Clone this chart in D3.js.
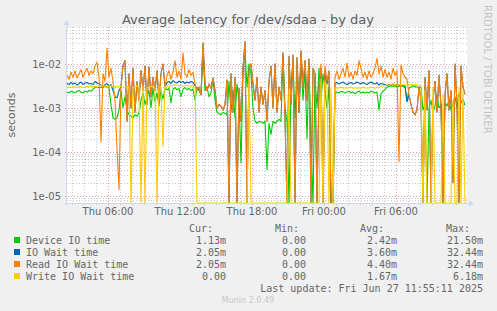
<!DOCTYPE html>
<html lang="en">
<head>
<meta charset="UTF-8">
<title>Average latency for /dev/sdaa - by day</title>
<style>
  body { margin: 0; background: #f0f0f0; }
  svg { display: block; }
  text { font-family: "DejaVu Sans", sans-serif; fill: #666; }
  .mono { font-family: "DejaVu Sans Mono", monospace; font-size: 10px; }
</style>
</head>
<body>
<svg id="chart" width="497" height="311"></svg>
<script src="https://d3js.org/d3.v7.min.js"></script>
<script>
// one sample every 10 minutes, values in milliseconds (0 = nothing measured)
const startTime = new Date(2025, 5, 26, 2, 35);
const endTime = new Date(2025, 5, 27, 11, 55);
const stepMinutes = 10;

const deviceIO = [
  2.3, 2.2, 2.4, 2.3, 2.2, 2.4, 2.5, 2.3, 2.2, 2.4,
  2.3, 2.5, 2.4, 2.7, 2.9, 3.0, 2.9, 3.0, 2.9, 3.1,
  3.0, 2.8, 1.2, 0.6, 0.55, 0.6, 0.9, 2.5, 1.0, 1.8,
  0.9, 0.7, 0.65, 0.6, 0.7, 0.65, 0.8, 1.5, 2.2, 1.2,
  1.8, 2.5, 1.0, 2.8, 1.4, 2.2, 1.1, 2.5, 1.6, 2.8,
  2.6, 2.8, 1.3, 2.7, 2.9, 2.6, 2.8, 1.8, 2.7, 2.9,
  2.6, 2.8, 2.5, 2.7, 1.5, 3.0, 2.5, 2.0, 18, 2.5,
  3.0, 1.8, 2.2, 4.5, 1.5, 0.8, 0.75, 0.7, 0.8, 0.75,
  0.7, 4.0, 0.8, 2.5, 0.6, 3.5, 1.5, 0.056, 6.0, 21.5,
  3.0, 10, 6.0, 1.0, 0.5, 0.45, 0.5, 0.48, 0.45, 0.5,
  0.04, 0.45, 0.25, 0.5, 0.45, 0.5, 0.55, 0.5, 15, 1.0,
  0.5, 0, 3.0, 12, 0.6, 10, 0.8, 12, 1.5, 8.0,
  0.2, 10, 0.15, 0, 5.0, 1.0, 8.0, 1.5, 6.0, 2.5,
  1.0, 3.0, 0, 0, 2.2, 2.3, 2.2, 2.4, 2.3, 2.2,
  2.3, 2.4, 2.2, 2.3, 2.1, 2.3, 2.4, 2.2, 2.3, 2.2,
  2.3, 2.2, 2.4, 2.3, 2.2, 2.3, 0.9, 2.1, 2.4, 2.6,
  3.0, 3.1, 3.2, 3.1, 3.2, 3.0, 3.1, 3.2, 3.1, 3.0,
  1.4, 2.8, 3.0, 3.2, 3.1, 3.0, 2.9, 3.0, 0.9, 1.2,
  0, 1.0, 1.5, 0.8, 1.1, 2.0, 1.0, 1.2, 0.056, 1.3,
  1.1, 1.5, 0.9, 1.2, 1.8, 1.0, 2.2, 1.3, 1.6, 1.13
];

const ioWait = [
  3.6, 3.4, 3.8, 3.5, 3.7, 3.3, 3.6, 3.9, 3.4, 3.7,
  3.8, 3.5, 3.6, 3.4, 4.0, 3.7, 3.5, 3.3, 3.0, 3.4,
  3.6, 3.2, 3.4, 2.5, 1.8, 1.7, 2.5, 3.0, 9.0, 12,
  0.5, 6.0, 1.0, 8.0, 0.8, 4.0, 1.5, 7.0, 2.5, 9.0,
  1.2, 8.5, 1.8, 5.0, 2.5, 7.0, 1.5, 6.0, 10, 3.0,
  3.8, 4.0, 3.6, 4.2, 3.9, 3.7, 4.1, 3.8, 4.0, 3.6,
  3.9, 3.7, 4.0, 3.8, 3.2, 2.5, 3.0, 2.0, 30, 3.5,
  2.5, 3.5, 2.8, 4.8, 2.5, 1.0, 1.2, 1.1, 0.9, 1.2,
  4.3, 0, 6.0, 0.8, 5.0, 0, 2.8, 0.5, 8.0, 32.44,
  0, 8.0, 10, 3.5, 1.5, 5.0, 0.8, 3.0, 1.2, 2.5,
  0.5, 4.0, 9.0, 1.0, 10, 0.8, 3.0, 1.5, 18, 0.6,
  0, 15, 1.2, 16, 0, 14, 0.8, 20, 3.0, 12,
  1.5, 13, 0, 8.0, 6.0, 0, 3.0, 8.0, 0, 7.0,
  3.5, 7.0, 0, 0, 3.6, 3.8, 3.5, 3.7, 3.9, 3.6,
  3.4, 3.7, 3.8, 3.5, 3.6, 3.9, 3.7, 3.5, 3.8, 3.6,
  3.4, 3.7, 3.9, 3.6, 3.5, 3.8, 3.3, 3.6, 3.5, 3.4,
  3.3, 3.4, 3.3, 3.5, 3.3, 3.4, 3.3, 3.2, 3.3, 3.2,
  1.4, 2.0, 1.2, 0.8, 0.7, 0.9, 3.0, 1.5, 0, 5.0,
  0.9, 7.0, 0, 1.5, 4.0, 0.8, 5.5, 1.1, 0, 2.0,
  6.0, 0.9, 2.5, 0.02, 10, 1.2, 0, 9.0, 3.0, 2.05
];

const readWait = [
  5.5, 4.5, 6.5, 5.0, 7.0, 4.8, 6.0, 7.5, 5.0, 6.5,
  8.0, 5.5, 7.0, 6.0, 9.0, 11, 5.0, 0.17, 6.0, 4.0,
  23, 5.0, 8.0, 4.0, 1.5, 0.12, 0.014, 3.0, 9.0, 12,
  0.5, 6.0, 1.0, 8.0, 0.8, 4.0, 1.5, 7.0, 2.5, 9.0,
  1.2, 8.5, 1.8, 5.0, 2.5, 7.0, 1.5, 6.0, 10, 3.0,
  5.5, 7.0, 4.5, 6.5, 12, 5.0, 7.0, 4.5, 18, 6.0,
  5.0, 7.5, 5.5, 6.5, 3.5, 2.5, 3.0, 2.0, 30, 3.5,
  2.5, 3.5, 2.8, 4.8, 2.5, 1.0, 1.2, 1.1, 0.9, 1.2,
  4.3, 0, 6.0, 0.8, 5.0, 0, 2.8, 0.5, 8.0, 32.44,
  0, 8.0, 10, 3.5, 1.5, 5.0, 0.8, 3.0, 1.2, 2.5,
  0.5, 4.0, 9.0, 1.0, 10, 0.8, 3.0, 1.5, 18, 0.6,
  0, 15, 1.2, 16, 0, 14, 0.8, 20, 3.0, 12,
  1.5, 13, 0, 8.0, 6.0, 0, 3.0, 10, 0, 9.0,
  4.0, 7.0, 0, 0, 5.0, 7.0, 4.5, 6.0, 8.0, 5.0,
  10.5, 5.0, 6.5, 4.5, 7.0, 5.5, 12, 8.0, 5.0, 6.5,
  4.5, 7.0, 5.0, 6.0, 8.0, 13.5, 6.0, 9.0, 5.0, 7.5,
  5.0, 6.5, 4.5, 8.0, 5.5, 7.0, 0.06, 9.5, 6.0, 5.0,
  4.5, 2.0, 1.2, 0.8, 0.7, 0.9, 3.0, 1.5, 0, 5.0,
  0.9, 7.0, 0, 1.5, 4.0, 0.8, 5.5, 1.1, 0, 2.0,
  6.0, 0.9, 2.5, 0.02, 10, 1.2, 0, 9.0, 3.0, 2.05
];

const writeWait = [
  2.9, 3.0, 2.9, 3.1, 3.0, 2.9, 3.0, 3.1, 2.9, 3.0,
  3.1, 3.0, 3.2, 3.0, 3.1, 3.0, 3.2, 3.3, 3.1, 3.2,
  3.0, 3.1, 3.2, 3.0, 3.1, 3.0, 3.2, 3.1, 3.0, 2.9,
  3.0, 3.1, 0, 3.0, 2.9, 3.2, 3.0, 0, 3.1, 0,
  3.0, 2.9, 3.1, 3.0, 2.9, 0, 3.1, 3.0, 0.13, 3.0,
  3.2, 3.1, 3.3, 3.2, 3.4, 3.3, 3.2, 3.3, 3.1, 3.2,
  3.3, 3.2, 3.1, 3.2, 3.0, 0, 0, 0, 0, 0,
  0, 0, 0, 0, 0, 0, 0, 0, 0, 0,
  0, 0, 0, 0, 0, 0, 0, 0, 0, 0,
  0, 5.0, 0, 0, 0, 0, 0, 0, 0, 0,
  0, 0, 0, 0, 0, 0, 0, 0, 0, 0,
  0, 2.5, 0, 0, 0, 0, 0, 0, 0, 0,
  0, 0, 0, 0, 0, 0, 0, 4.5, 0, 4.0,
  3.0, 0, 2.8, 0, 2.9, 2.8, 2.9, 3.0, 2.8, 2.9,
  2.8, 2.9, 3.0, 2.8, 2.9, 2.8, 2.9, 2.8, 3.0, 2.9,
  2.8, 2.9, 3.0, 2.9, 2.8, 3.0, 2.9, 3.1, 3.2, 3.3,
  3.4, 3.3, 3.4, 3.5, 3.4, 3.3, 3.4, 3.3, 3.4, 3.3,
  3.4, 3.3, 3.4, 3.5, 3.3, 3.4, 3.3, 3.2, 0, 2.5,
  0, 0, 0, 3.0, 0, 0, 0, 0, 2.0, 0,
  0, 0, 0, 1.5, 0, 0, 3.0, 0, 2.5, 0
];

const seriesNames = ["Device IO time", "IO Wait time", "Read IO Wait time", "Write IO Wait time"];
const seriesColors = ["#00cc00", "#0066b3", "#ff8000", "#ffcc00"];
const curLabels = ["1.13m", "2.05m", "2.05m", "0.00"];
const minLabels = ["0.00", "0.00", "0.00", "0.00"];
const avgLabels = ["2.42m", "3.60m", "4.40m", "1.67m"];
const maxLabels = ["21.50m", "32.44m", "32.44m", "6.18m"];

const yTickValues = [1e-2, 1e-3, 1e-4, 1e-5];
const yTickLabels = ["1e-02", "1e-03", "1e-04", "1e-05"];
const xTickTimes = [
  new Date(2025, 5, 26, 6), new Date(2025, 5, 26, 12), new Date(2025, 5, 26, 18),
  new Date(2025, 5, 27, 0), new Date(2025, 5, 27, 6)
];

const svg = d3.select("#chart");
const plotLeft = 67, plotRight = 467, plotTop = 27, plotBottom = 203;

const x = d3.scaleTime().domain([startTime, endTime]).range([plotLeft, plotRight]);
// 1e-2 sits at y=64 and 1e-5 at y=196, the scale runs on past both ends
const y = d3.scaleLog().domain([1e-5, 1e-2]).range([196, 64]);
const yPos = v => (v > 0 ? Math.min(y(v), plotBottom) : plotBottom);

const timeOf = i => new Date(startTime.getTime() + i * stepMinutes * 60000);

// canvas
svg.append("rect").attr("x", plotLeft).attr("y", plotTop)
  .attr("width", plotRight - plotLeft).attr("height", plotBottom - plotTop).attr("fill", "#fff");

// horizontal grid
const grid = svg.append("g");
for (let k = -6; k <= -1; k++) {
  for (let m = 1; m <= 9; m++) {
    const v = m * Math.pow(10, k);
    const yy = Math.round(y(v)) + 0.5;
    if (yy < plotTop || yy > plotBottom) continue;
    grid.append("line")
      .attr("x1", m === 1 ? plotLeft - 2 : plotLeft).attr("x2", plotRight)
      .attr("y1", yy).attr("y2", yy)
      .attr("stroke", m === 1 ? "#f29a9a" : "#c9c9c9")
      .attr("stroke-dasharray", "1,2");
  }
}

// vertical grid, an hour apart
d3.timeHour.range(startTime, endTime).forEach(t => {
  const xx = Math.round(x(t)) + 0.5;
  const major = t.getHours() % 6 === 0;
  grid.append("line")
    .attr("x1", xx).attr("x2", xx).attr("y1", plotTop).attr("y2", plotBottom + (major ? 3 : 2))
    .attr("stroke", major ? "#f29a9a" : "#c9c9c9")
    .attr("stroke-dasharray", "1,2");
});

// data lines
svg.append("clipPath").attr("id", "plotclip").append("rect")
  .attr("x", plotLeft).attr("y", plotTop)
  .attr("width", plotRight - plotLeft + 1).attr("height", plotBottom - plotTop + 1);

const line = d3.line()
  .x((d, i) => x(timeOf(i)))
  .y(d => yPos(d / 1000));

const plot = svg.append("g").attr("clip-path", "url(#plotclip)");
[deviceIO, ioWait, readWait, writeWait].forEach((series, s) => {
  plot.append("path")
    .datum(series)
    .attr("d", line)
    .attr("fill", "none")
    .attr("stroke", seriesColors[s])
    .attr("stroke-width", 1.1)
    .attr("stroke-linejoin", "round");
});

// axes with arrows
const axisColor = "#cfd6f8";
svg.append("line").attr("x1", plotLeft - 2).attr("x2", plotRight + 3)
  .attr("y1", plotBottom + 0.5).attr("y2", plotBottom + 0.5).attr("stroke", axisColor);
svg.append("line").attr("x1", plotLeft - 0.5).attr("x2", plotLeft - 0.5)
  .attr("y1", plotBottom + 3).attr("y2", plotTop - 3).attr("stroke", axisColor);
svg.append("path").attr("fill", axisColor)
  .attr("d", `M${plotRight + 2},${plotBottom - 2.5} L${plotRight + 7},${plotBottom + 0.5} L${plotRight + 2},${plotBottom + 3.5} Z`);
svg.append("path").attr("fill", axisColor)
  .attr("d", `M${plotLeft - 3.5},${plotTop - 2} L${plotLeft - 0.5},${plotTop - 7} L${plotLeft + 2.5},${plotTop - 2} Z`);

// tick labels
svg.append("g").selectAll("text").data(yTickValues).join("text")
  .attr("x", 61).attr("y", d => y(d) + 3.5)
  .attr("text-anchor", "end").attr("font-size", 10)
  .text((d, i) => yTickLabels[i]);

const fmt = d3.timeFormat("%a %H:%M");
svg.append("g").selectAll("text").data(xTickTimes).join("text")
  .attr("x", d => x(d)).attr("y", 215)
  .attr("text-anchor", "middle").attr("font-size", 10)
  .text(d => fmt(d));

// title and side texts
svg.append("text").attr("x", 248).attr("y", 24).attr("text-anchor", "middle")
  .attr("font-size", 13).style("fill", "#5e5e5e")
  .text("Average latency for /dev/sdaa - by day");

svg.append("text").attr("transform", "translate(15,115) rotate(-90)")
  .attr("text-anchor", "middle").attr("font-size", 11)
  .text("seconds");

svg.append("text").attr("transform", "translate(484,5) rotate(90)")
  .attr("font-size", 10).style("fill", "#c4c4c4")
  .text("RRDTOOL / TOBI OETIKER");

// legend
const legend = svg.append("g");
const headers = [["Cur:", 213], ["Min:", 299], ["Avg:", 384], ["Max:", 470]];
headers.forEach(([t, xe]) => {
  legend.append("text").attr("class", "mono").attr("x", xe).attr("y", 232)
    .attr("text-anchor", "end").text(t);
});
const columns = [[curLabels, 226], [minLabels, 306], [avgLabels, 397], [maxLabels, 483]];
seriesNames.forEach((name, i) => {
  const cy = 240 + i * 12;
  legend.append("rect").attr("x", 14).attr("y", cy - 3).attr("width", 6).attr("height", 6)
    .attr("fill", seriesColors[i]);
  legend.append("text").attr("class", "mono").attr("x", 26).attr("y", cy + 3.5).text(name);
  columns.forEach(([vals, xe]) => {
    legend.append("text").attr("class", "mono").attr("x", xe).attr("y", cy + 3.5)
      .attr("text-anchor", "end").text(vals[i]);
  });
});
legend.append("text").attr("class", "mono").attr("x", 483).attr("y", 291.5)
  .attr("text-anchor", "end").text("Last update: Fri Jun 27 11:55:11 2025");

svg.append("text").attr("x", 248).attr("y", 303).attr("text-anchor", "middle")
  .attr("font-size", 8).style("fill", "#c8c8c8")
  .text("Munin 2.0.49");
</script>
</body>
</html>
